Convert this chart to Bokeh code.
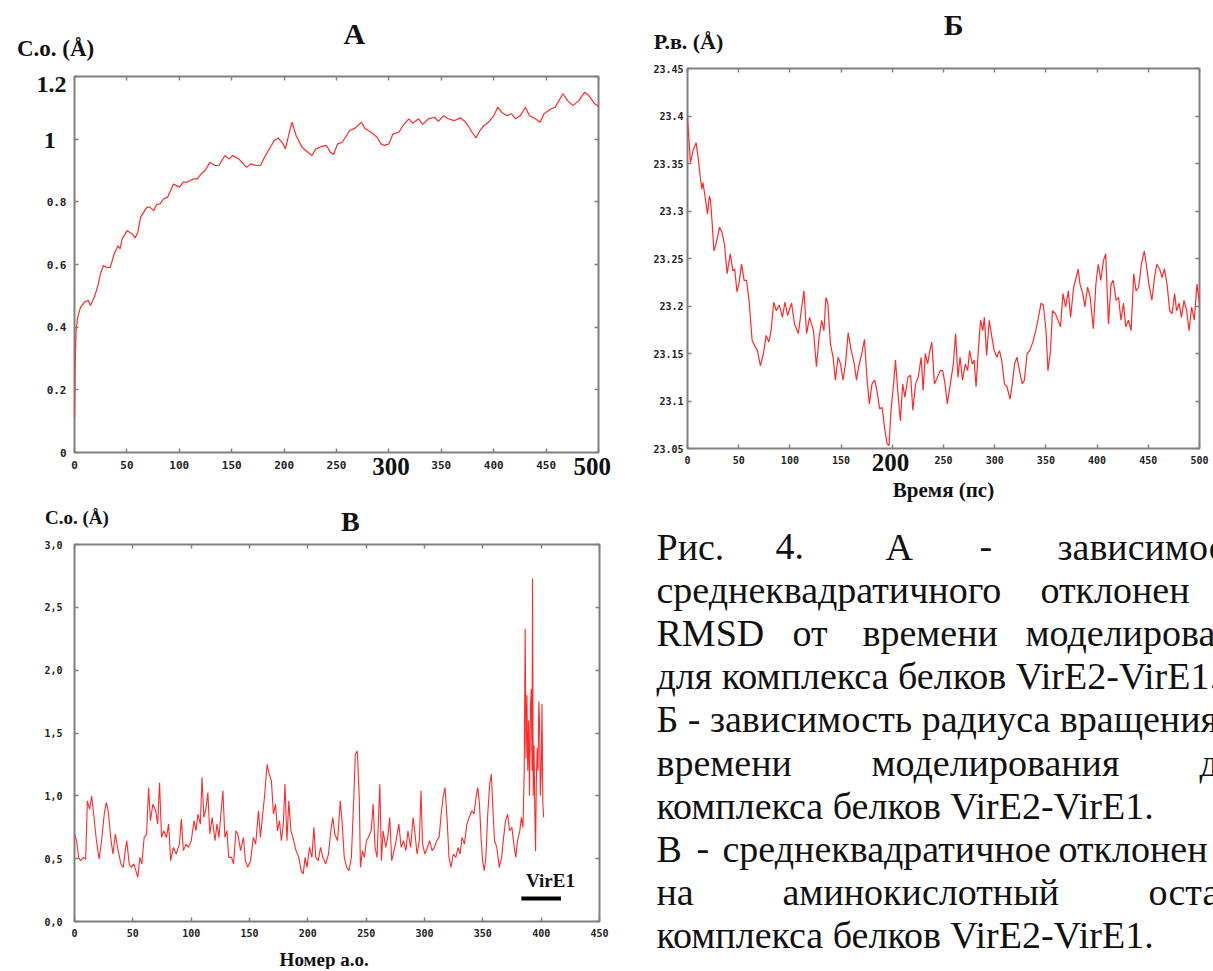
from bokeh.plotting import figure
from bokeh.layouts import column, row
from bokeh.models import Range1d, FixedTicker, LinearAxis, CustomJSTickFormatter
from bokeh.core.properties import value
from bokeh.embed import file_html
from bokeh.resources import INLINE

# ---------------- Panel A: RMSD vs time ----------------
a_time = [0, 0.5, 1, 1.5, 3.0, 3.9, 5.8, 9.6, 13.2, 15.2, 19.0, 22.8, 24.7, 27.7, 30.3, 34.1, 37.9, 41.6,
          43.5, 45.4, 50.3, 54.9, 57.8, 60.5, 63.1, 66.1, 69.2, 71.8, 75.6, 78.2, 81.3, 85.0, 88.8, 94.5,
          100.1, 103.9, 107.7, 113.3, 117.1, 120.9, 124.6, 129.2, 134.1, 137.9, 143.5, 147.3, 151.0,
          156.7, 164.3, 168.0, 173.7, 177.5, 181.3, 185.0, 190.7, 194.4, 199.0, 201.2, 205.0, 207.6,
          211.4, 217.1, 222.7, 226.5, 230.3, 235.2, 240.4, 244.2, 247.2, 251.0, 255.5, 262.4, 268.0,
          273.7, 277.4, 283.1, 288.7, 292.5, 295.6, 300.1, 303.9, 309.5, 313.3, 319.0, 322.7, 328.4,
          332.2, 337.8, 343.5, 347.2, 352.2, 356.7, 362.3, 368.0, 371.8, 375.6, 379.3, 383.1, 386.8,
          390.6, 395.1, 400.1, 403.8, 407.6, 412.5, 417.1, 420.8, 425.4, 430.3, 434.1, 439.7, 444.3,
          448.0, 454.8, 458.6, 462.3, 466.1, 470.6, 475.6, 481.2, 486.8, 490.6, 496.3, 500.0]
a_rmsd = [0.11, 0.25, 0.33, 0.39, 0.43, 0.443, 0.464, 0.48, 0.485, 0.469, 0.496, 0.538, 0.570, 0.597,
          0.591, 0.591, 0.634, 0.660, 0.650, 0.682, 0.708, 0.698, 0.685, 0.703, 0.751, 0.767, 0.783,
          0.783, 0.772, 0.791, 0.793, 0.809, 0.815, 0.857, 0.847, 0.863, 0.863, 0.873, 0.873, 0.889,
          0.900, 0.926, 0.916, 0.916, 0.948, 0.937, 0.948, 0.937, 0.910, 0.921, 0.916, 0.916, 0.942,
          0.964, 0.996, 1.004, 0.985, 0.969, 1.022, 1.054, 1.012, 0.974, 0.958, 0.948, 0.969, 0.976,
          0.980, 0.958, 0.951, 0.985, 0.990, 1.027, 1.036, 1.054, 1.033, 1.022, 1.006, 0.985, 0.980,
          0.985, 1.017, 1.022, 1.043, 1.065, 1.051, 1.065, 1.047, 1.065, 1.070, 1.057, 1.075, 1.065,
          1.059, 1.068, 1.059, 1.043, 1.022, 1.004, 1.027, 1.043, 1.054, 1.075, 1.102, 1.086, 1.075,
          1.081, 1.065, 1.075, 1.102, 1.075, 1.065, 1.054, 1.081, 1.097, 1.102, 1.123, 1.145, 1.123,
          1.107, 1.123, 1.150, 1.140, 1.113, 1.105]
a_xticks = [0, 50, 100, 150, 200, 250, 300, 350, 400, 450, 500]
a_xlabels = ["0", "50", "100", "150", "200", "250", "", "350", "400", "450", ""]
a_xbig = [(302, "300"), (494, "500")]
a_yticks = [0, 0.2, 0.4, 0.6, 0.8, 1.0, 1.2]
a_ylabels = ["0", "0.2", "0.4", "0.6", "0.8", "", ""]
a_ybig = [(1.174, "1.2"), (0.996, "1")]

# ---------------- Panel B: radius of gyration vs time ----------------
b_time = [0, 2.9, 5.5, 8.4, 10.3, 12.9, 14.0, 15.1, 17.7, 19.5, 21.4, 22.5, 23.9, 25.8, 27.6, 31.3, 33.6,
          36.1, 38.7, 41.7, 44.3, 46.1, 48.3, 50.2, 52.8, 55.3, 57.6, 60.1, 63.1, 65.7, 68.3, 71.2, 74.2,
          76.8, 79.4, 81.6, 84.2, 86.7, 89.7, 92.7, 95.2, 97.8, 101.6, 104.5, 108.2, 111.1, 113.7,
          116.3, 119.2, 123.0, 125.9, 128.5, 131.1, 133.2, 135.2, 137.0, 139.6, 142.2, 144.4, 147.0,
          149.5, 151.8, 154.3, 156.9, 159.9, 162.8, 165.0, 167.3, 170.2, 172.8, 175.4, 177.6, 180.2,
          182.8, 185.0, 187.6, 190.1, 192.4, 194.9, 196.8, 198.7, 201.3, 203.1, 205.3, 207.9, 210.1,
          212.3, 215.2, 217.9, 220.1, 222.7, 225.3, 228.2, 230.1, 232.2, 234.5, 236.7, 238.6, 241.1,
          244.1, 246.7, 249.2, 251.5, 253.7, 256.7, 259.6, 261.8, 264.1, 266.2, 268.5, 271.4, 273.6,
          275.5, 278.0, 279.9, 281.8, 284.0, 286.2, 288.4, 289.9, 292.1, 294.7, 297.3, 299.5, 302.1,
          304.7, 306.8, 309.5, 312.0, 315.0, 317.2, 319.4, 321.7, 324.2, 326.9, 329.0, 331.7, 334.2,
          337.2, 340.1, 342.7, 345.3, 347.5, 350.1, 352.0, 354.5, 356.4, 359.3, 361.9, 364.2, 366.7,
          369.3, 371.9, 374.1, 377.1, 379.6, 381.5, 383.3, 386.0, 388.1, 390.7, 393.3, 396.3, 398.8,
          401.1, 403.6, 406.3, 408.4, 411.1, 413.6, 415.8, 418.5, 421.0, 423.3, 425.8, 428.0, 430.6,
          433.2, 435.8, 438.0, 440.6, 443.2, 446.1, 448.0, 450.6, 453.5, 456.1, 458.3, 461.0, 463.5,
          465.7, 468.3, 470.9, 473.2, 475.7, 477.6, 480.1, 482.3, 484.9, 487.5, 489.8, 492.3, 494.9,
          497.5, 500.0]
b_rg = [23.398, 23.351, 23.364, 23.372, 23.357, 23.332, 23.323, 23.330, 23.311, 23.297, 23.316, 23.311,
        23.290, 23.258, 23.264, 23.283, 23.278, 23.265, 23.234, 23.255, 23.237, 23.239, 23.215, 23.223,
        23.244, 23.227, 23.227, 23.206, 23.164, 23.158, 23.153, 23.137, 23.150, 23.169, 23.162, 23.174,
        23.204, 23.195, 23.201, 23.188, 23.204, 23.190, 23.203, 23.181, 23.171, 23.195, 23.216, 23.171,
        23.188, 23.174, 23.136, 23.167, 23.185, 23.174, 23.209, 23.203, 23.160, 23.146, 23.122, 23.146,
        23.139, 23.122, 23.139, 23.172, 23.153, 23.139, 23.122, 23.137, 23.150, 23.165, 23.122, 23.097,
        23.118, 23.122, 23.111, 23.092, 23.093, 23.072, 23.055, 23.053, 23.090, 23.118, 23.143, 23.111,
        23.079, 23.118, 23.104, 23.125, 23.127, 23.090, 23.118, 23.125, 23.146, 23.111, 23.150, 23.139,
        23.153, 23.162, 23.118, 23.125, 23.132, 23.132, 23.118, 23.097, 23.118, 23.139, 23.171, 23.125,
        23.146, 23.122, 23.139, 23.132, 23.153, 23.139, 23.143, 23.115, 23.153, 23.185, 23.174, 23.188,
        23.148, 23.185, 23.167, 23.153, 23.146, 23.153, 23.143, 23.118, 23.115, 23.102, 23.118, 23.139,
        23.146, 23.132, 23.118, 23.122, 23.150, 23.153, 23.162, 23.174, 23.188, 23.203, 23.201, 23.174,
        23.132, 23.153, 23.195, 23.192, 23.185, 23.178, 23.213, 23.199, 23.216, 23.188, 23.220, 23.230,
        23.239, 23.223, 23.213, 23.199, 23.220, 23.209, 23.176, 23.223, 23.244, 23.227, 23.248, 23.255,
        23.181, 23.223, 23.227, 23.206, 23.209, 23.185, 23.203, 23.178, 23.185, 23.174, 23.234, 23.216,
        23.220, 23.244, 23.258, 23.244, 23.223, 23.206, 23.230, 23.244, 23.239, 23.230, 23.239, 23.223,
        23.195, 23.192, 23.213, 23.195, 23.203, 23.188, 23.206, 23.195, 23.174, 23.199, 23.185, 23.223,
        23.203]
b_xticks = [0, 50, 100, 150, 200, 250, 300, 350, 400, 450, 500]
b_xlabels = ["0", "50", "100", "150", "", "250", "300", "350", "400", "450", "500"]
b_xbig = [(198.3, "200")]
b_yticks = [23.05, 23.1, 23.15, 23.2, 23.25, 23.3, 23.35, 23.4, 23.45]
b_ylabels = ["23.05", "23.1", "23.15", "23.2", "23.25", "23.3", "23.35", "23.4", "23.45"]

# ---------------- Panel C: RMSF per residue ----------------
c_res = [0.1, 1.8, 3.5, 5.2, 7.6, 9.6, 11.0, 13.0, 14.7, 16.4, 18.8, 21.1, 23.2, 25.5, 27.2, 28.9, 31.3,
         33.0, 35.0, 37.4, 39.8, 41.8, 43.5, 44.8, 46.9, 48.6, 50.9, 52.6, 54.3, 56.0, 57.7, 59.7, 61.8,
         63.5, 65.1, 67.2, 69.6, 71.3, 72.9, 74.6, 76.4, 78.8, 80.7, 82.4, 84.8, 87.2, 89.9, 91.6, 93.3,
         95.6, 97.7, 100.1, 102.4, 104.1, 105.8, 107.9, 109.3, 110.9, 112.6, 114.3, 116.0, 118.0, 120.4,
         122.1, 123.8, 125.5, 127.2, 128.9, 130.6, 132.2, 134.6, 136.3, 138.4, 140.0, 142.4, 144.8,
         146.5, 148.5, 150.9, 153.3, 155.3, 157.7, 159.4, 161.0, 162.8, 165.1, 166.9, 168.8, 170.5,
         172.3, 174.0, 175.7, 177.3, 179.0, 180.4, 182.1, 183.7, 185.5, 187.2, 189.9, 192.2, 194.3,
         196.0, 197.7, 199.3, 201.4, 203.5, 205.2, 206.8, 208.9, 210.9, 212.9, 215.3, 217.7, 219.7,
         221.4, 223.1, 225.5, 227.8, 229.5, 231.2, 233.3, 235.3, 237.3, 239.4, 240.7, 242.4, 244.1,
         245.1, 246.8, 248.5, 250.2, 251.9, 254.3, 256.0, 257.6, 259.3, 261.7, 263.1, 264.5, 266.8,
         268.5, 270.2, 271.9, 273.9, 275.6, 278.0, 280.0, 282.0, 284.1, 285.8, 288.1, 290.2, 291.6,
         293.6, 295.6, 297.0, 298.3, 300.4, 302.4, 304.4, 306.5, 308.5, 310.5, 312.5, 314.3, 315.9,
         317.6, 319.3, 321.0, 322.7, 324.7, 326.8, 328.8, 330.5, 332.2, 334.2, 336.3, 338.3, 340.7,
         342.4, 344.1, 345.7, 347.1, 348.5, 349.8, 351.2, 352.6, 354.2, 355.9, 357.3, 358.7, 360.0,
         362.0, 364.1, 366.1, 367.8, 369.5, 371.2, 372.9, 374.9, 376.9, 378.3, 379.7, 381.7, 383.0,
         384.4, 385.5, 386.3, 387.0, 387.8, 388.5, 389.3, 390.0, 390.8, 391.5, 392.2, 392.6, 393.2,
         393.9, 394.5, 395.2, 395.8, 396.6, 397.3, 398.0, 398.6, 399.3, 400.0, 400.7, 401.4, 402.1]
c_rmsf = [0.696, 0.643, 0.510, 0.484, 0.510, 0.497, 0.960, 0.894, 1.000, 0.855, 0.643, 0.497, 0.643,
          0.855, 0.947, 0.881, 0.643, 0.537, 0.696, 0.564, 0.458, 0.431, 0.564, 0.643, 0.458, 0.431,
          0.458, 0.405, 0.352, 0.510, 0.458, 0.669, 0.696, 1.066, 0.802, 0.934, 0.881, 0.775, 1.106,
          0.669, 0.722, 0.669, 0.775, 0.484, 0.590, 0.537, 0.616, 0.815, 0.564, 0.616, 0.590, 0.643,
          0.802, 0.722, 0.855, 0.775, 1.146, 0.828, 0.894, 1.026, 0.696, 0.828, 0.643, 0.775, 0.669,
          0.855, 1.040, 0.669, 0.722, 0.510, 0.510, 0.458, 0.722, 0.696, 0.564, 0.669, 0.484, 0.431,
          0.484, 0.669, 0.616, 0.881, 0.669, 0.828, 0.987, 1.251, 1.172, 1.119, 0.855, 0.934, 0.722,
          0.802, 0.643, 0.775, 1.093, 0.643, 0.960, 0.722, 0.669, 0.564, 0.510, 0.405, 0.378, 0.510,
          0.431, 0.590, 0.510, 0.749, 0.510, 0.484, 0.590, 0.510, 0.458, 0.537, 0.722, 0.828, 0.696,
          0.643, 0.960, 0.775, 0.510, 0.431, 0.405, 0.510, 0.987, 1.331, 1.357, 0.987, 0.431, 0.564,
          0.510, 0.643, 0.669, 0.722, 0.934, 0.590, 0.510, 1.093, 0.484, 0.722, 0.590, 0.669, 0.828,
          0.484, 0.564, 0.643, 0.775, 0.590, 0.643, 0.564, 0.722, 0.590, 0.828, 0.722, 0.537, 0.643,
          1.040, 0.616, 0.537, 0.590, 0.643, 0.564, 0.590, 0.643, 0.669, 0.855, 0.987, 1.066, 0.828,
          0.510, 0.431, 0.537, 0.510, 0.590, 0.537, 0.669, 0.616, 0.775, 0.828, 0.881, 0.855, 0.987,
          1.066, 0.934, 0.669, 0.484, 0.405, 0.510, 0.855, 1.093, 1.172, 0.881, 0.643, 0.590, 0.431,
          0.510, 0.669, 0.802, 0.855, 0.722, 0.749, 0.590, 0.510, 0.643, 0.722, 0.828, 0.749, 1.20,
          2.33, 1.30, 1.80, 1.20, 1.60, 1.00, 1.70, 1.85, 1.20, 2.73, 1.00, 1.40, 0.90, 0.56, 1.10,
          1.38, 1.20, 1.75, 1.60, 1.00, 1.20, 1.73, 0.95, 0.83]
c_xticks = [0, 50, 100, 150, 200, 250, 300, 350, 400, 450]
c_xlabels = ["0", "50", "100", "150", "200", "250", "300", "350", "400", "450"]
c_yticks = [0.0, 0.5, 1.0, 1.5, 2.0, 2.5, 3.0]
c_ylabels = ["0,0", "0,5", "1,0", "1,5", "2,0", "2,5", "3,0"]
vire1_span = [383, 417]   # residues of the VirE1 marker bar
vire1_level = 0.183

# caption: (left x in px, word) per line; lines 4, 5, 7 and 10 are set unjustified
caption_lines = [
    [(656, "Рис."), (775, "4."), (885, "А"), (979, "-"), (1057, "зависимос")],
    [(656, "среднеквадратичного"), (1040, "отклонен")],
    [(656, "RMSD"), (792, "от"), (862, "времени"), (1025, "моделирован")],
    [(656, "для комплекса белков VirE2-VirE1.")],
    [(656, "Б - зависимость радиуса вращения")],
    [(656, "времени"), (871, "моделирования"), (1199, "д")],
    [(656, "комплекса белков VirE2-VirE1.")],
    [(656, "В"), (696, "-"), (722, "среднеквадратичное"), (1058, "отклонен")],
    [(656, "на"), (782, "аминокислотный"), (1148, "остат")],
    [(656, "комплекса белков VirE2-VirE1.")],
]

GRAY = "#808080"
RED = "#ff2a2a"
SERIF = "Liberation Serif"
MONO = "DejaVu Sans Mono"


def fmt(ticks, labels):
    return CustomJSTickFormatter(args=dict(t=ticks, l=labels), code="""
        for (let i = 0; i < t.length; i++) { if (Math.abs(t[i] - tick) < 1e-6) { return l[i]; } }
        return "";
    """)


def make_panel(xr, yr, fw, fh, bl, br, bt, bb, xticks, xlabels, yticks, ylabels, xstand, ystand, fs):
    p = figure(x_range=Range1d(*xr), y_range=Range1d(*yr), frame_width=fw, frame_height=fh,
               min_border_left=bl, min_border_right=br, min_border_top=bt, min_border_bottom=bb,
               output_backend="svg", toolbar_location=None, background_fill_color="white",
               border_fill_color="white")
    p.grid.visible = False
    p.outline_line_color = GRAY
    p.outline_line_width = 2
    for ax, ticks, labels, stand in ((p.xaxis[0], xticks, xlabels, xstand), (p.yaxis[0], yticks, ylabels, ystand)):
        ax.ticker = FixedTicker(ticks=ticks)
        ax.formatter = fmt(ticks, labels)
        ax.axis_line_color = None
        ax.major_tick_in = 4
        ax.major_tick_out = 0
        ax.major_tick_line_color = GRAY
        ax.major_tick_line_width = 1.5
        ax.minor_tick_line_color = None
        ax.major_label_standoff = stand
        ax.major_label_text_font = MONO
        ax.major_label_text_font_style = "bold"
        ax.major_label_text_font_size = fs
        ax.major_label_text_color = "#222222"
    for loc, ticks in (("above", xticks), ("right", yticks)):
        ax = LinearAxis(ticker=FixedTicker(ticks=ticks), formatter=CustomJSTickFormatter(code="return ''"),
                        major_label_text_font_size="2px", major_label_standoff=0, axis_line_color=None,
                        major_tick_in=4, major_tick_out=0, major_tick_line_color=GRAY,
                        major_tick_line_width=1.5, minor_tick_line_color=None)
        p.add_layout(ax, loc)
    return p


def txt(p, x, y, text, size, bold=True, align="center", baseline="middle"):
    p.text(x=[x], y=[y], text=[text], text_font=value(SERIF), text_font_size=f"{size}px",
           text_font_style="bold" if bold else "normal", text_align=align,
           text_baseline=baseline, text_color="#111111", level="annotation")


# Panel A  (page x 0..620, y 0..490)
pa = make_panel((0, 500), (0, 1.2), 524, 376, 74, 22, 76, 38,
                a_xticks, a_xlabels, a_yticks, a_ylabels, 8, 8, "11px")
pa.line(a_time, a_rmsd, line_color=RED, line_width=1.2)
txt(pa, 267, 1.337, "A", 30)
txt(pa, -18, 1.289, "C.o. (Å)", 23)
for x, t in a_xbig:
    txt(pa, x, -0.046, t, 25)
for y, t in a_ybig:
    txt(pa, -7.6 if t == "1.2" else -18, y, t, 24, align="right")

# Panel B  (page x 620..1213, y 0..502)
pb = make_panel((0, 500), (23.05, 23.45), 512, 380, 67, 14, 68, 54,
                b_xticks, b_xlabels, b_yticks, b_ylabels, 7, 4, "10px")
pb.line(b_time, b_rg, line_color=RED, line_width=1.2)
txt(pb, 260, 23.496, "Б", 30)
txt(pb, 1, 23.478, "Р.в. (Å)", 22)
for x, t in b_xbig:
    txt(pb, x, 23.035, t, 25)
txt(pb, 250, 23.006, "Время (пс)", 21)

# Panel C  (page x 0..620, y 490..969)
pc = make_panel((0, 450), (0, 3.0), 525, 377, 74, 21, 54, 48,
                c_xticks, c_xlabels, c_yticks, c_ylabels, 7, 12, "10px")
pc.line(c_res, c_rmsf, line_color=RED, line_width=1.1)
pc.line(vire1_span, [vire1_level, vire1_level], line_color="black", line_width=4)
txt(pc, 236.5, 3.183, "В", 28)
txt(pc, 2, 3.214, "C.o. (Å)", 19)
txt(pc, 408, 0.325, "VirE1", 19)
txt(pc, 214, -0.30, "Номер а.о.", 19)

# Caption  (page x 620..1213, y 502..969); same frame geometry as panel B above it
pt = figure(x_range=Range1d(687, 1199), y_range=Range1d(969, 502), frame_width=512, frame_height=467,
            min_border_left=67, min_border_right=14, min_border_top=0, min_border_bottom=0,
            output_backend="svg", toolbar_location=None,
            x_axis_location=None, y_axis_location=None)
pt.grid.visible = False
pt.outline_line_color = None
xs, ys, ts = [], [], []
for i, line in enumerate(caption_lines):
    for x, t in line:
        xs.append(x)
        ys.append(546 + 43.2 * i)
        ts.append(t)
pt.text(xs, ys, text=ts, text_font=value(SERIF), text_font_size="38px", text_color="#111111",
        text_align="left", text_baseline="alphabetic", level="annotation")

layout = row(column(pa, pc), column(pb, pt))
open("out.html", "w").write(file_html(layout, INLINE))
